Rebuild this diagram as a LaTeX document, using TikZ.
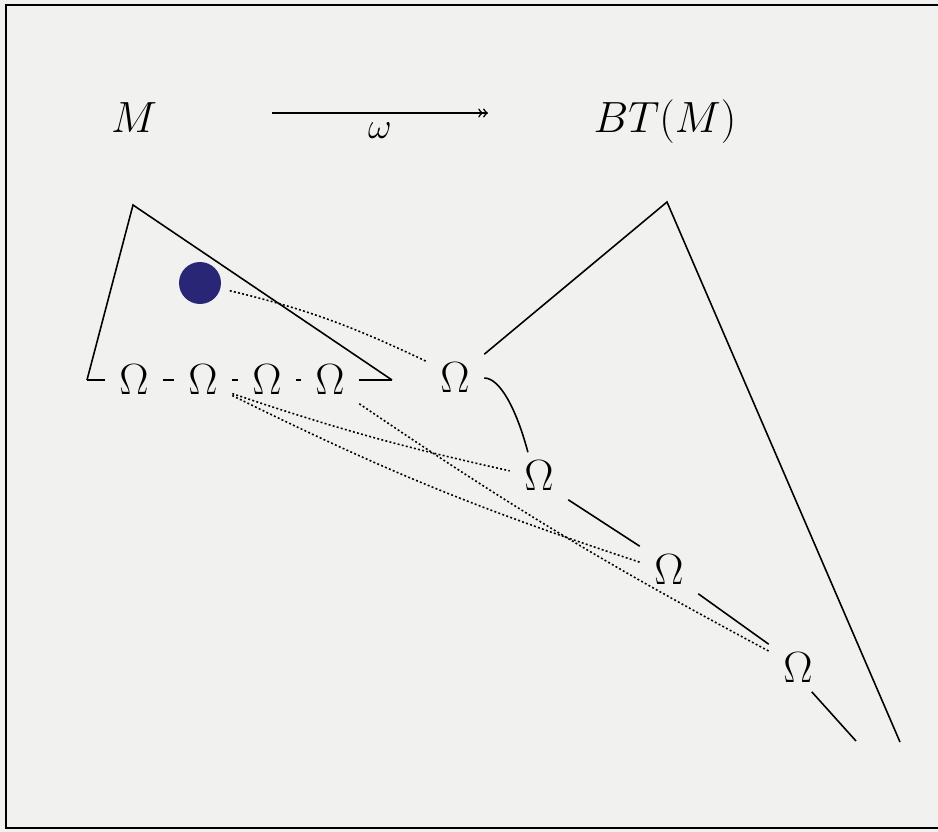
\documentclass[tikz,border=0pt]{standalone}
\usepackage{amssymb}
\usepackage{amsmath}
\usepackage{tikz}
\definecolor{ink}{RGB}{42,38,118}
\definecolor{paper}{RGB}{241,241,240}

\begin{document}
\begin{tikzpicture}[x=0.02cm,y=-0.02cm,line width=0.9pt,
  om/.style={inner sep=0pt,minimum width=1.14cm,minimum height=0.92cm,font=\fontsize{30}{32}\selectfont},
  dots/.style={line width=0.9pt,dash pattern=on 1.1pt off 1.3pt}]
\fill[paper] (0,0) rectangle (938,832);
\useasboundingbox (0,0) rectangle (938,832);
\draw[line width=1.3pt] (938,5) -- (6,5) -- (6,828) -- (938,828);
% top row
\node[anchor=base,font=\fontsize{28}{30}\selectfont] (M) at (134,132) {$M$};
\node[anchor=base,font=\fontsize{28}{30}\selectfont] (BT) at (665,132) {$BT(M)$};
\coordinate (w1) at (272,113);
\coordinate (w2) at (488,113);
\draw[->>] (w1) -- (w2);
\node[font=\fontsize{22}{24}\selectfont] (w) at (380,131) {$\omega$};
% left triangle
\coordinate (A) at (133,205);
\coordinate (B) at (87,380);
\coordinate (C) at (392,380);
\foreach \i/\x in {1/134,2/203,3/267,4/330}{
\node[om] (L\i) at (\x,380) {$\Omega$};
}
\draw (B) -- (A) -- (C);
\draw (B) -- (L1.west);
\draw (L1.east) -- (L2.west);
\draw (L2.east) -- (L3.west);
\draw (L3.east) -- (L4.west);
\draw (L4.east) -- (C);
\node[circle,fill=ink,minimum size=0.84cm,inner sep=0pt] (dot) at (200,283) {};
% right tree
\node[om] (T0) at (455,378) {$\Omega$};
\node[om] (T1) at (539,476) {$\Omega$};
\node[om] (T2) at (669,570) {$\Omega$};
\node[om] (T3) at (798,668) {$\Omega$};
\coordinate (D) at (667,202);
\coordinate (E) at (900,742);
\coordinate (F) at (856,741);
\draw (T0.north east) -- (D) -- (E);
\draw (T0.east) .. controls +(15,0) and +(-12,-45) .. (T1.115);
\draw (T1.south east) -- (T2.north west);
\draw (T2.south east) -- (T3.north west);
\draw (T3.-60) -- (F);
% dotted maps
\draw[dots,bend left=6,shorten <=0.18cm] (dot.-15) to (T0.150);
\draw[dots,bend right=3] (L2.-25) to (T1.170);
\draw[dots,bend right=4] (L2.-28) to (T2.165);
\draw[dots,bend right=3] (L4.south east) to (T3.150);
\end{tikzpicture}
\end{document}
